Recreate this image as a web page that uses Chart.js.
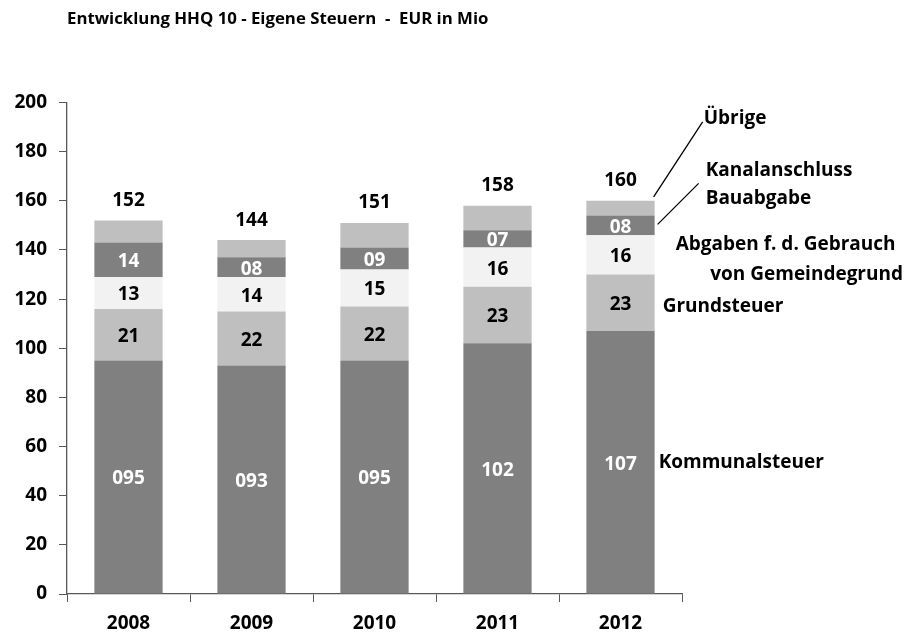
<!DOCTYPE html>
<html><head><meta charset="utf-8">
<script src="https://cdn.jsdelivr.net/npm/chart.js@4"></script>
<style>html,body{margin:0;padding:0;background:#fff}</style>
</head><body>
<canvas id="c" width="919" height="634"></canvas>
<script>
const chartTitle = 'Entwicklung HHQ 10 - Eigene Steuern  -  EUR in Mio';
const years = ['2008', '2009', '2010', '2011', '2012'];
const kommunalsteuer = [95, 93, 95, 102, 107];
const grundsteuer = [21, 22, 22, 23, 23];
const abgabenGebrauch = [13, 14, 15, 16, 16];
const kanalanschluss = [14, 8, 9, 7, 8];
const uebrige = [9, 7, 10, 10, 6];
const totals = [152, 144, 151, 158, 160];

const FONT = '"Open Sans"';
const DARK = '#808080', LIGHT = '#bfbfbf', PALE = '#f2f2f2';

const datasets = [
  { label: 'Kommunalsteuer', data: kommunalsteuer, backgroundColor: DARK, pad: 3, textColor: '#ffffff',
    note: { lines: ['Kommunalsteuer'], dx: 4, dy: 0, align: 'left' } },
  { label: 'Grundsteuer', data: grundsteuer, backgroundColor: LIGHT, pad: 2, textColor: '#000000',
    note: { lines: ['Grundsteuer'], dx: 8, dy: 4, align: 'left' } },
  { label: 'Abgaben f. d. Gebrauch von Gemeindegrund', data: abgabenGebrauch, backgroundColor: PALE, pad: 2, textColor: '#000000',
    note: { lines: ['Abgaben f. d. Gebrauch', 'von Gemeindegrund'], dx: 21, dy: -10, lineH: 30, align: 'mixed' } },
  { label: 'Kanalanschluss Bauabgabe', data: kanalanschluss, backgroundColor: DARK, pad: 2, textColor: '#ffffff',
    note: { lines: ['Kanalanschluss', 'Bauabgabe'], dx: 51, dy: -55, lineH: 28, align: 'left',
            leader: [3, -1, 44, -42], fromCenter: true } },
  { label: 'Übrige', data: uebrige, backgroundColor: LIGHT, pad: 0, textColor: null,
    note: { lines: ['Übrige'], dx: 49, dy: -90, align: 'left', leader: [-1, -4, 48, -79] } }
];

const labelPlugin = {
  id: 'labels',
  afterDatasetsDraw(chart) {
    const ctx = chart.ctx;
    ctx.save();
    ctx.font = 'bold 16.8px ' + FONT;
    ctx.fillStyle = '#000';
    ctx.textAlign = 'left';
    ctx.textBaseline = 'middle';
    ctx.fillText(chartTitle, 67, 19);

    ctx.font = 'bold 19px ' + FONT;
    ctx.textAlign = 'center';
    chart.data.datasets.forEach((ds, di) => {
      const meta = chart.getDatasetMeta(di);
      if (!ds.textColor) return;
      meta.data.forEach((bar, i) => {
        const cy = (bar.y + bar.base) / 2;
        ctx.fillStyle = ds.textColor;
        ctx.fillText(String(ds.data[i]).padStart(ds.pad, '0'), bar.x, cy + 2);
      });
    });
    const topMeta = chart.getDatasetMeta(chart.data.datasets.length - 1);
    ctx.fillStyle = '#000';
    topMeta.data.forEach((bar, i) => {
      ctx.fillText(String(totals[i]), bar.x, bar.y - 20);
    });
    chart.data.datasets.forEach((ds, di) => {
      const meta = chart.getDatasetMeta(di);
      const bar = meta.data[meta.data.length - 1];
      const right = bar.x + bar.width / 2;
      const cy = (bar.y + bar.base) / 2;
      const n = ds.note;
      if (n.leader) {
        const y0 = n.fromCenter ? cy : bar.y;
        ctx.strokeStyle = '#000';
        ctx.lineWidth = 1.3;
        ctx.beginPath();
        ctx.moveTo(right + n.leader[0], y0 + n.leader[1]);
        ctx.lineTo(right + n.leader[2], y0 + n.leader[3]);
        ctx.stroke();
      }
      ctx.fillStyle = '#000';
      n.lines.forEach((t, k) => {
        const y = cy + n.dy + k * (n.lineH || 0);
        if (n.align === 'mixed' && k === 1) {
          ctx.textAlign = 'right';
          ctx.fillText(t, 903, y);
        } else {
          ctx.textAlign = 'left';
          ctx.fillText(t, right + n.dx, y);
        }
      });
    });
    ctx.restore();
  }
};

new Chart(document.getElementById('c'), {
  type: 'bar',
  data: {
    labels: years,
    datasets: datasets.map(d => ({
      label: d.label, data: d.data, backgroundColor: d.backgroundColor,
      borderWidth: 0, barPercentage: 0.555, categoryPercentage: 1,
      textColor: d.textColor, pad: d.pad, note: d.note
    }))
  },
  options: {
    responsive: false,
    animation: false,
    devicePixelRatio: 1,
    layout: { padding: { left: 0, right: 237, top: 102.5, bottom: 0 } },
    plugins: { legend: { display: false }, tooltip: { enabled: false }, title: { display: false } },
    scales: {
      x: {
        stacked: true,
        afterFit(s) { s.height = 40; },
        grid: { display: true, offset: true, drawOnChartArea: false, drawTicks: true, tickLength: 8, color: '#595959', lineWidth: 1 },
        border: { display: true, color: '#595959', width: 1.3 },
        ticks: { color: '#000', font: { family: 'Open Sans', size: 19, weight: 'bold' }, padding: 10 }
      },
      y: {
        stacked: true,
        min: 0, max: 200,
        afterFit(s) { s.width = 67; },
        grid: { display: true, drawOnChartArea: false, drawTicks: true, tickLength: 8, color: '#595959' },
        border: { display: true, color: '#595959', width: 1.3 },
        ticks: { stepSize: 20, color: '#000', font: { family: 'Open Sans', size: 19, weight: 'bold' }, padding: 12 }
      }
    }
  },
  plugins: [labelPlugin]
});
</script>
</body></html>
